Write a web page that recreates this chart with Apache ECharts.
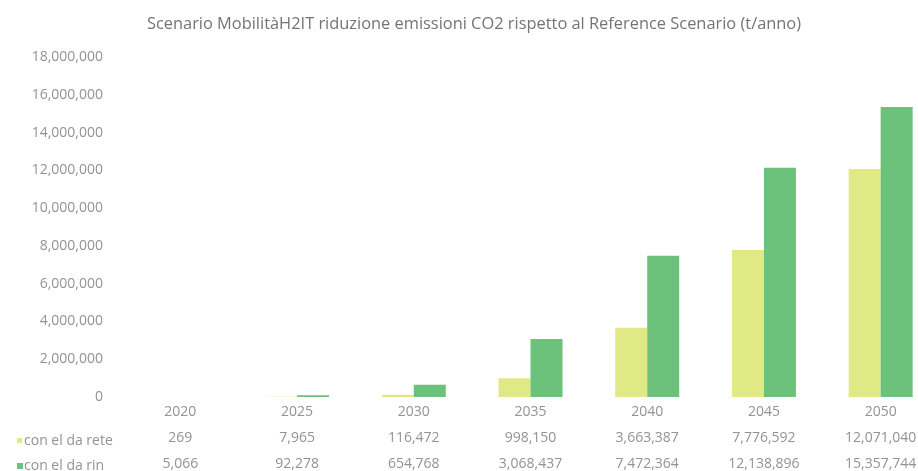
<!DOCTYPE html>
<html>
<head>
<meta charset="utf-8">
<title>Scenario MobilitàH2IT</title>
<script src="https://cdn.jsdelivr.net/npm/echarts@6/dist/echarts.min.js"></script>
<style>
  html, body { margin: 0; padding: 0; background: #ffffff; overflow: hidden; }
  /* the chart is a little wider than the page, so the last column is cut at the edge */
  #chart { width: 939px; height: 471px; }
</style>
</head>
<body>
<div id="chart"></div>
<script>
// Years on the category axis
const years = ['2020', '2025', '2030', '2035', '2040', '2045', '2050'];
// CO2 reduction vs. Reference Scenario (t/anno)
const reteValues = [269, 7965, 116472, 998150, 3663387, 7776592, 12071040];
const rinValues = [5066, 92278, 654768, 3068437, 7472364, 12138896, 15357744];
// Series names shown in the data table
const reteName = 'con el da rete';
const rinName = 'con el da rin';
// Value axis ticks
const yMin = 0;
const yMax = 18000000;
const yStep = 2000000;

const FONT = 'Open Sans';
const TEXT = '#939393';
const YELLOW = '#e0e985';
const GREEN = '#6cc27a';

const fmt = v => Number(v).toLocaleString('en-US');

const chart = echarts.init(document.getElementById('chart'), null, { renderer: 'canvas' });

chart.setOption({
  backgroundColor: '#ffffff',
  animation: false,
  textStyle: { fontFamily: FONT },
  title: {
    text: 'Scenario MobilitàH2IT riduzione emissioni CO2 rispetto al Reference Scenario (t/anno)',
    left: 469,
    textAlign: 'center',
    top: 11,
    textStyle: { fontFamily: FONT, fontSize: 16.4, fontWeight: 'normal', color: '#747474' }
  },
  grid: { left: 122, top: 57, bottom: 71, right: 0, containLabel: false },
  xAxis: {
    type: 'category',
    data: years,
    axisLine: { show: false },
    axisTick: { show: false },
    axisLabel: {
      interval: 0,
      margin: 2,
      formatter: (val, idx) =>
        '{y|' + val + '}\n{v|' + fmt(reteValues[idx]) + '}\n{v|' + fmt(rinValues[idx]) + '}',
      rich: {
        y: { fontFamily: FONT, fontSize: 14, color: TEXT, lineHeight: 26 },
        v: { fontFamily: FONT, fontSize: 14, color: TEXT, lineHeight: 26 }
      }
    }
  },
  yAxis: {
    type: 'value',
    min: yMin,
    max: yMax,
    interval: yStep,
    axisLine: { show: false },
    axisTick: { show: false },
    splitLine: { show: false },
    axisLabel: {
      margin: 19,
      fontFamily: FONT,
      fontSize: 14,
      color: TEXT,
      formatter: v => fmt(v)
    }
  },
  series: [
    {
      name: reteName,
      type: 'bar',
      data: reteValues,
      barWidth: 32,
      barGap: '0%',
      itemStyle: { color: YELLOW }
    },
    {
      name: rinName,
      type: 'bar',
      data: rinValues,
      barWidth: 32,
      itemStyle: { color: GREEN }
    }
  ],
  graphic: [
    { type: 'rect', shape: { x: 17, y: 438, width: 5, height: 5 }, style: { fill: YELLOW } },
    { type: 'text', x: 24, y: 441, style: { text: reteName, fontFamily: FONT, fontSize: 14, fill: TEXT, verticalAlign: 'middle' } },
    { type: 'rect', shape: { x: 17, y: 463, width: 6, height: 6 }, style: { fill: GREEN } },
    { type: 'text', x: 24, y: 466, style: { text: rinName, fontFamily: FONT, fontSize: 14, fill: TEXT, verticalAlign: 'middle' } }
  ]
});
</script>
</body>
</html>
